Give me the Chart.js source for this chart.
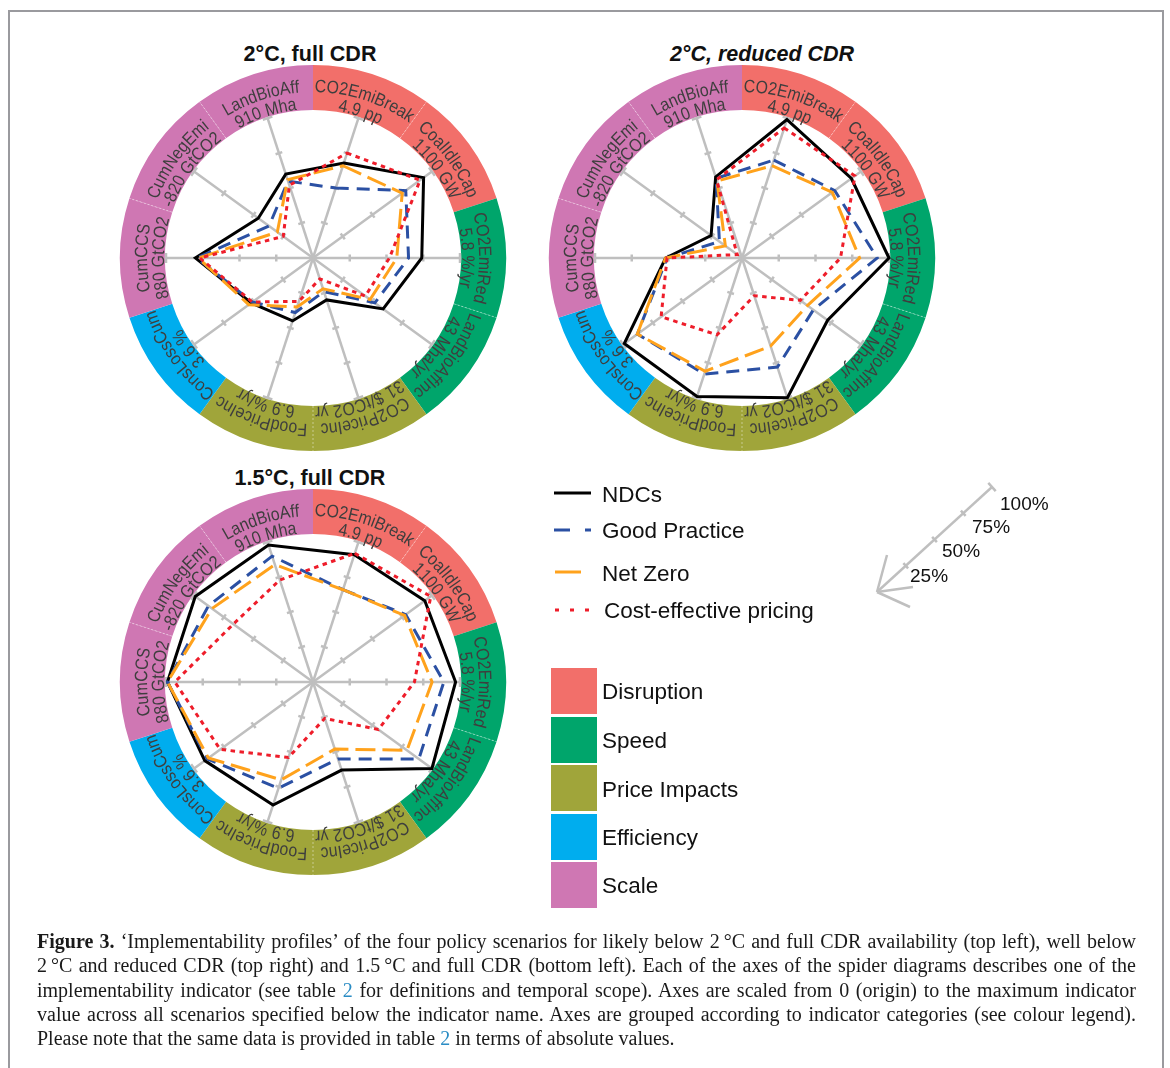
<!DOCTYPE html>
<html>
<head>
<meta charset="utf-8">
<script src="https://cdn.jsdelivr.net/npm/chart.js@4.4.1/dist/chart.umd.min.js"></script>
<style>
  html, body { margin: 0; padding: 0; background: #fff; }
  body { width: 1170px; height: 1068px; position: relative; overflow: hidden; font-family: 'Liberation Sans', Arial, sans-serif; }
  .frame { position: absolute; left: 8px; top: 10px; width: 1156px; height: 1200px; box-sizing: border-box; border: 2px solid #9a9a9e; }
  .panel { position: absolute; }
  .title { position: absolute; font-weight: bold; font-size: 21.5px; line-height: 21px; color: #111; white-space: nowrap; transform: translateX(-50%); }
  .caption { position: absolute; left: 37px; top: 929px; width: 1099px; font-family: 'Liberation Serif', 'Times New Roman', serif; font-size: 20px; line-height: 24.3px; color: #1a1a1a; }
  .caption div { text-align: justify; text-align-last: justify; white-space: nowrap; }
  .caption div.last { text-align-last: left; }
  .lnk { color: #2a8cc4; }
  svg.overlay { position: absolute; left: 0; top: 0; }
</style>
</head>
<body>
<div class="frame"></div>

<div class="title" style="left:310px; top:44px;">2°C, full CDR</div>
<div class="title" style="left:762px; top:44px; font-style:italic;">2°C, reduced CDR</div>
<div class="title" style="left:310px; top:468px;">1.5°C, full CDR</div>

<canvas id="c1" class="panel" width="400" height="400" style="left:113px; top:58px;"></canvas>
<canvas id="c2" class="panel" width="400" height="400" style="left:542px; top:58px;"></canvas>
<canvas id="c3" class="panel" width="400" height="400" style="left:113px; top:482px;"></canvas>

<svg class="overlay" width="1170" height="1068" id="legend"></svg>

<div class="caption">
  <div><b>Figure 3.</b> ‘Implementability profiles’ of the four policy scenarios for likely below 2&#8201;°C and full CDR availability (top left), well below</div>
  <div>2&#8201;°C and reduced CDR (top right) and 1.5&#8201;°C and full CDR (bottom left). Each of the axes of the spider diagrams describes one of the</div>
  <div>implementability indicator (see table <span class="lnk">2</span> for definitions and temporal scope). Axes are scaled from 0 (origin) to the maximum indicator</div>
  <div>value across all scenarios specified below the indicator name. Axes are grouped according to indicator categories (see colour legend).</div>
  <div class="last">Please note that the same data is provided in table <span class="lnk">2</span> in terms of absolute values.</div>
</div>

<script>
// indicator axes, clockwise from the top
const indicators = ['CO2EmiBreak', 'CoalIdleCap', 'CO2EmiRed', 'LandBioAffInc', 'CO2PriceInc',
                    'FoodPriceInc', 'ConsLossCum', 'CumCCS', 'CumNegEmi', 'LandBioAff'];
const maxValues = ['4.9 pp', '1100 GW', '5.8 %/yr', '43 Mha/yr', '31 $/tCO2 yr',
                   '6.9 %/yr', '3.6 %', '880 GtCO2', '-820 GtCO2', '910 Mha'];
const categories = ['Disruption', 'Speed', 'Price Impacts', 'Efficiency', 'Scale'];
const indicatorCategory = [0, 0, 1, 1, 2, 2, 3, 4, 4, 4];
const scenarios = ['NDCs', 'Good Practice', 'Net Zero', 'Cost-effective pricing'];
const scaleLabels = ['25%', '50%', '75%', '100%'];

// % of axis maximum — 2°C, full CDR
const full2_ndc = [68, 93, 74, 59, 30, 45, 52, 80, 46, 60];
const full2_gp  = [50, 78, 65, 52, 24, 39, 51, 79, 37, 55];
const full2_nz  = [66, 75, 57, 48, 22, 35, 54, 78, 30, 56];
const full2_ce  = [75, 90, 52, 44, 15, 31, 51, 77, 25, 52];

// 2°C, reduced CDR
const red2_ndc = [99, 92, 100, 72, 100, 99, 99, 52, 26, 58];
const red2_gp  = [70, 78, 92, 60, 78, 83, 88, 51, 19, 57];
const red2_nz  = [66, 76, 80, 55, 63, 81, 88, 52, 14, 55];
const red2_ce  = [93, 95, 67, 49, 27, 55, 68, 51, 4, 56];

// 1.5°C, full CDR
const full15_ndc = [91, 94, 97, 100, 63, 88, 91, 99, 99, 98];
const full15_gp  = [66, 78, 89, 89, 55, 76, 89, 99, 88, 90];
const full15_nz  = [66, 77, 81, 79, 48, 70, 88, 99, 85, 84];
const full15_ce  = [92, 99, 69, 55, 26, 54, 78, 94, 67, 73];

const categoryColors = ['#f26f6a', '#00a56b', '#a0a53a', '#00adee', '#cf77b3'];
const lineColors = ['#000000', '#2b50a3', '#ffa21c', '#ee1d2a'];
const lineDashes = [[], [13, 8], [20, 7], [4.5, 4.5]];
const GRID = '#bfbfbf';
const RING_IN = 148, RING_OUT = 193, R_NAME = 166, R_VAL = 149;
const TEXT_SX = 0.88;

function arcText(ctx, cx, cy, text, r, mid) {
  const total = ctx.measureText(text).width * TEXT_SX;
  let a = mid - total / r / 2;
  for (const ch of text) {
    const w = ctx.measureText(ch).width * TEXT_SX;
    const ang = a + w / r / 2;
    ctx.save();
    ctx.translate(cx + Math.cos(ang) * r, cy + Math.sin(ang) * r);
    ctx.rotate(ang + Math.PI / 2);
    ctx.scale(TEXT_SX, 1);
    ctx.fillText(ch, 0, 0);
    ctx.restore();
    a += w / r;
  }
}

const ringPlugin = {
  id: 'ring',
  beforeDatasetsDraw(chart) {
    const scale = chart.scales.r;
    const ctx = chart.ctx;
    const cx = scale.xCenter, cy = scale.yCenter, R = scale.drawingArea;
    const n = indicators.length, half = Math.PI / n;
    ctx.save();
    // coloured category ring
    for (let i = 0; i < n; i++) {
      const mid = scale.getIndexAngle(i) - Math.PI / 2;
      ctx.beginPath();
      ctx.arc(cx, cy, RING_OUT, mid - half, mid + half);
      ctx.arc(cx, cy, RING_IN, mid + half, mid - half, true);
      ctx.closePath();
      ctx.fillStyle = categoryColors[indicatorCategory[i]];
      ctx.fill();
    }
    // faint dividers inside a category
    ctx.strokeStyle = 'rgba(255,255,255,0.55)';
    ctx.lineWidth = 0.8;
    ctx.setLineDash([2, 2]);
    for (let i = 0; i < n; i++) {
      const j = (i + 1) % n;
      if (indicatorCategory[i] !== indicatorCategory[j]) continue;
      const a = scale.getIndexAngle(i) - Math.PI / 2 + half;
      ctx.beginPath();
      ctx.moveTo(cx + Math.cos(a) * RING_IN, cy + Math.sin(a) * RING_IN);
      ctx.lineTo(cx + Math.cos(a) * RING_OUT, cy + Math.sin(a) * RING_OUT);
      ctx.stroke();
    }
    ctx.setLineDash([]);
    // curved labels
    ctx.fillStyle = '#3e3e3e';
    ctx.font = '18px "Liberation Sans", Arial, sans-serif';
    ctx.textAlign = 'center';
    ctx.textBaseline = 'alphabetic';
    for (let i = 0; i < n; i++) {
      const mid = scale.getIndexAngle(i) - Math.PI / 2;
      arcText(ctx, cx, cy, indicators[i], R_NAME, mid);
      arcText(ctx, cx, cy, maxValues[i], R_VAL, mid);
    }
    // tick marks on each axis
    ctx.strokeStyle = GRID;
    ctx.lineWidth = 2.5;
    for (let i = 0; i < n; i++) {
      const a = scale.getIndexAngle(i) - Math.PI / 2;
      const px = -Math.sin(a), py = Math.cos(a);
      for (let k = 1; k <= 4; k++) {
        const p = scale.getPointPosition(i, R * k / 4);
        const h = k === 4 ? 5 : 3.5;
        ctx.beginPath();
        ctx.moveTo(p.x - px * h, p.y - py * h);
        ctx.lineTo(p.x + px * h, p.y + py * h);
        ctx.stroke();
      }
    }
    ctx.restore();
  }
};

function makePanel(id, series) {
  new Chart(document.getElementById(id), {
    type: 'radar',
    data: {
      labels: indicators,
      datasets: scenarios.map((name, k) => ({
        label: name,
        data: series[k],
        borderColor: lineColors[k],
        borderDash: lineDashes[k],
        borderWidth: 3,
        borderJoinStyle: 'miter',
        fill: false,
        pointRadius: 0,
        pointHoverRadius: 0,
        order: 4 - k,
        clip: false
      }))
    },
    options: {
      responsive: false,
      animation: false,
      layout: { padding: 53 },
      elements: { line: { tension: 0 } },
      plugins: { legend: { display: false }, tooltip: { enabled: false } },
      scales: {
        r: {
          min: 0, max: 100,
          startAngle: 18,
          ticks: { display: false },
          grid: { display: false },
          angleLines: { display: true, color: GRID, lineWidth: 2.5 },
          pointLabels: { display: false }
        }
      }
    },
    plugins: [ringPlugin]
  });
}

makePanel('c1', [full2_ndc, full2_gp, full2_nz, full2_ce]);
makePanel('c2', [red2_ndc, red2_gp, red2_nz, red2_ce]);
makePanel('c3', [full15_ndc, full15_gp, full15_nz, full15_ce]);

// legends (plain svg)
const svg = document.getElementById('legend');
const NS = 'http://www.w3.org/2000/svg';
function el(tag, attrs, text) {
  const e = document.createElementNS(NS, tag);
  for (const k in attrs) e.setAttribute(k, attrs[k]);
  if (text !== undefined) e.textContent = text;
  svg.appendChild(e);
  return e;
}
const FONT = "'Liberation Sans', Arial, sans-serif";

// scenario line legend
const lineRows = [502, 538, 581, 618];
const lineY = [493, 530, 572, 610];
const sampleX = [[554, 591], [554, 591], [555, 581], [555, 591]];
const sampleDash = ['', '16 15', '', '4 11'];
scenarios.forEach((name, k) => {
  el('line', { x1: sampleX[k][0], y1: lineY[k], x2: sampleX[k][1], y2: lineY[k],
    stroke: lineColors[k], 'stroke-width': 3, 'stroke-dasharray': sampleDash[k] });
  el('text', { x: k === 3 ? 604 : 602, y: lineRows[k], 'font-family': FONT, 'font-size': 22.5, fill: '#111' }, name);
});

// category colour legend
const catTop = [668, 717, 765, 814, 862];
const catBase = [699, 748, 797, 845, 893];
categories.forEach((name, k) => {
  el('rect', { x: 551, y: catTop[k], width: 46, height: 46, fill: categoryColors[k] });
  el('text', { x: 602, y: catBase[k], 'font-family': FONT, 'font-size': 22.5, fill: '#111' }, name);
});

// axis scale key
const tip = [877, 592], end = [992, 487];
const ux = (end[0] - tip[0]), uy = (end[1] - tip[1]);
const len = Math.hypot(ux, uy), nx = -uy / len, ny = ux / len;
el('line', { x1: tip[0], y1: tip[1], x2: end[0], y2: end[1], stroke: GRID, 'stroke-width': 2.5 });
[0.25, 0.5, 0.75, 1].forEach((f, k) => {
  const x = tip[0] + ux * f, y = tip[1] + uy * f, h = f === 1 ? 5.5 : 3.5;
  el('line', { x1: x - nx * h, y1: y - ny * h, x2: x + nx * h, y2: y + ny * h, stroke: GRID, 'stroke-width': 2.5 });
});
[[887, 555], [913, 587], [910, 607]].forEach(p => {
  el('line', { x1: tip[0], y1: tip[1], x2: p[0], y2: p[1], stroke: GRID, 'stroke-width': 2.5 });
});
const keyX = [910, 942, 972, 1000], keyY = [582, 557, 533, 510];
scaleLabels.forEach((t, k) => {
  el('text', { x: keyX[k], y: keyY[k], 'font-family': FONT, 'font-size': 19, fill: '#111' }, t);
});
</script>
</body>
</html>
